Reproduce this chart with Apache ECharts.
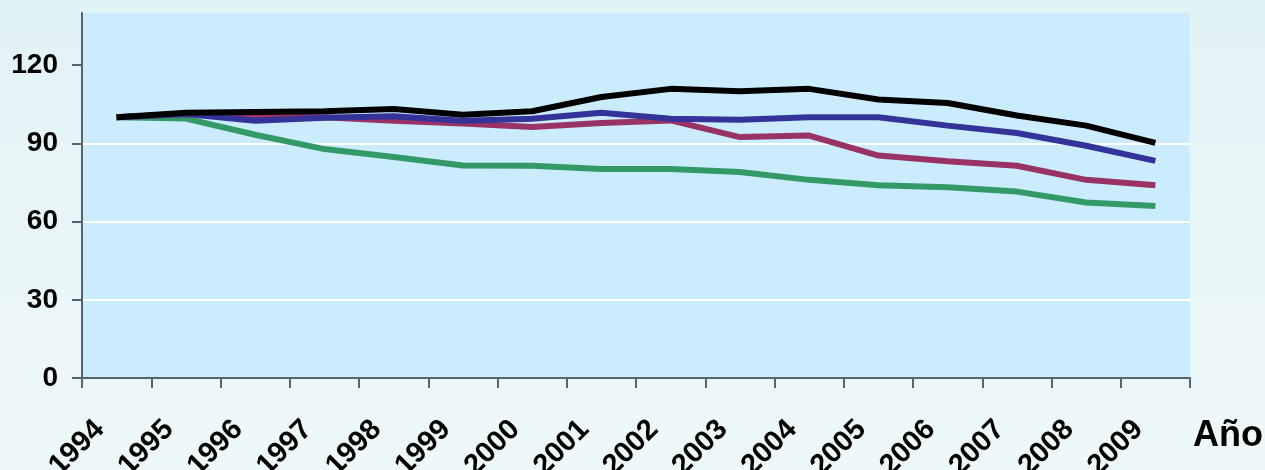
<!DOCTYPE html>
<html>
<head>
<meta charset="utf-8">
<script src="https://cdn.jsdelivr.net/npm/echarts@6/dist/echarts.min.js"></script>
<style>
  html, body { margin: 0; padding: 0; }
  #chart { width: 1265px; height: 470px; }
</style>
</head>
<body>
<div id="chart"></div>
<script>
// years on the x axis
const years = ['1994', '1995', '1996', '1997', '1998', '1999', '2000', '2001',
  '2002', '2003', '2004', '2005', '2006', '2007', '2008', '2009'];

// index values (1994 = 100)
const serieNegra = [100, 101.7, 102, 102.3, 103.2, 101, 102.3, 107.8, 110.9, 110, 110.9, 106.8, 105.5, 100.7, 96.8, 90.2];
const serieAzul = [100, 101.3, 98.7, 99.8, 100.4, 98.7, 99.4, 101.7, 99.4, 99.1, 100, 100, 96.8, 94, 89.1, 83.3];
const serieGranate = [100, 101.3, 100.4, 100, 98.7, 97.6, 96.3, 97.8, 98.8, 92.4, 93, 85.3, 83.1, 81.4, 76, 73.9];
const serieVerde = [100, 99.5, 93.3, 87.8, 84.8, 81.5, 81.4, 80.2, 80.2, 79, 76, 73.9, 73.2, 71.5, 67.3, 66];

const yTicks = [0, 30, 60, 90, 120];

const chart = echarts.init(document.getElementById('chart'));

function linea(name, color, data) {
  return {
    name: name,
    type: 'line',
    data: data,
    showSymbol: false,
    symbol: 'none',
    lineStyle: { color: color, width: 6 },
    itemStyle: { color: color },
    animation: false
  };
}

chart.setOption({
  backgroundColor: new echarts.graphic.LinearGradient(0, 0, 0, 1, [
    { offset: 0, color: '#e2f3f5' },
    { offset: 1, color: '#eef8f9' }
  ]),
  textStyle: { fontFamily: 'Liberation Sans, Arial, sans-serif' },
  grid: {
    left: 82,
    right: 75,
    top: 13,
    bottom: 92,
    outerBoundsMode: 'none',
    containLabel: false,
    show: true,
    backgroundColor: '#cbecfd',
    borderWidth: 0
  },
  xAxis: {
    type: 'category',
    data: years,
    boundaryGap: true,
    name: 'Año',
    nameLocation: 'end',
    nameGap: 3,
    nameTextStyle: {
      fontSize: 36,
      fontWeight: 'bold',
      color: '#000',
      verticalAlign: 'top',
      align: 'left',
      padding: [40, 0, 0, 0]
    },
    axisLine: { lineStyle: { color: '#58626c', width: 2 } },
    axisTick: { show: true, length: 10, alignWithLabel: false, lineStyle: { color: '#58626c', width: 2 } },
    axisLabel: {
      rotate: 45,
      margin: 30,
      padding: [0, 24, 0, 0],
      fontSize: 29,
      fontWeight: 'bold',
      color: '#000',
      interval: 0
    },
    splitLine: { show: false }
  },
  yAxis: {
    type: 'value',
    min: 0,
    max: 140,
    interval: 30,
    axisLine: { show: true, lineStyle: { color: '#58626c', width: 2 } },
    axisTick: { show: true, length: 10, customValues: yTicks, lineStyle: { color: '#58626c', width: 2 } },
    axisLabel: {
      customValues: yTicks,
      margin: 24,
      fontSize: 28,
      fontWeight: 'bold',
      color: '#000'
    },
    splitLine: {
      show: true,
      showMinLine: false,
      showMaxLine: false,
      lineStyle: { color: '#ffffff', width: 2 }
    }
  },
  series: [
    linea('Verde', '#339966', serieVerde),
    linea('Granate', '#993366', serieGranate),
    linea('Azul', '#333399', serieAzul),
    linea('Negra', '#000000', serieNegra)
  ]
});
</script>
</body>
</html>
